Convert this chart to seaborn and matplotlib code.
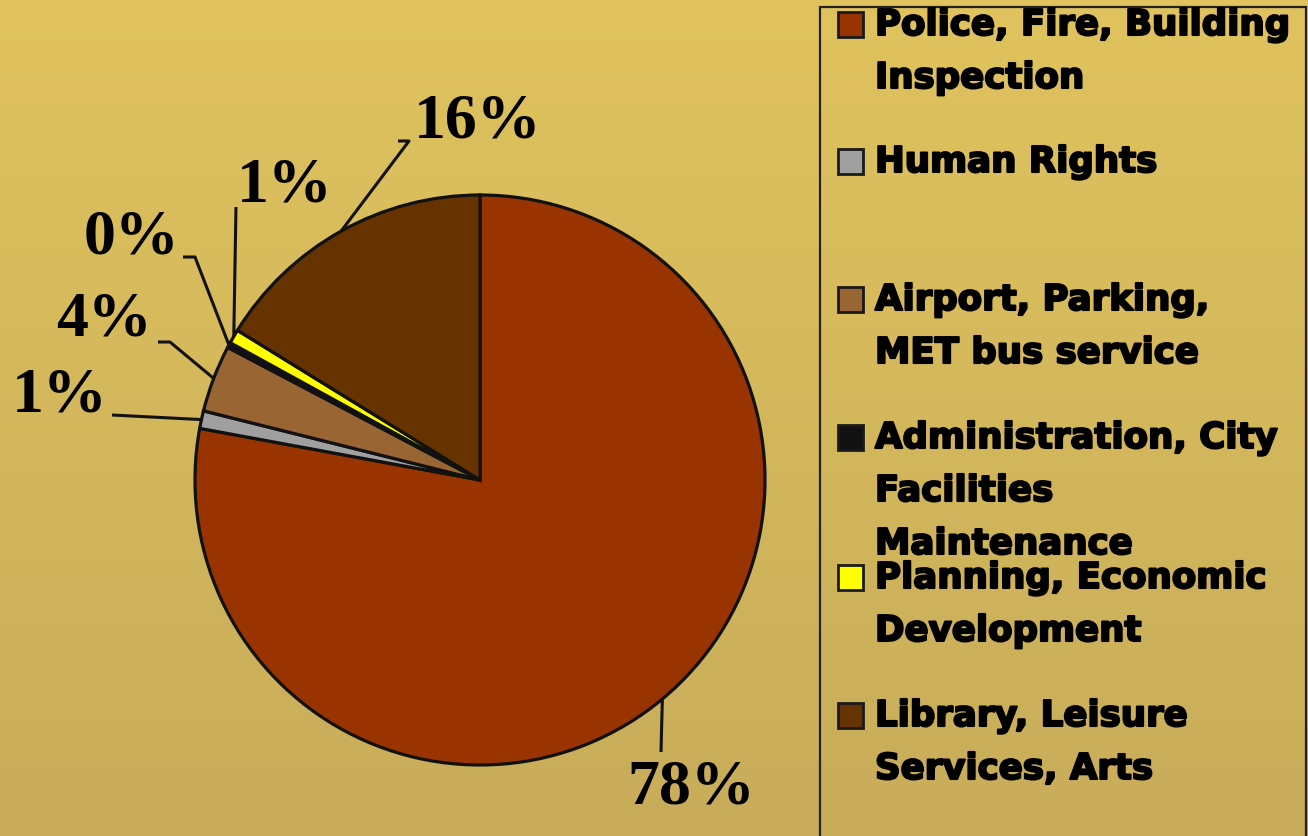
import numpy as np
import matplotlib
matplotlib.use("Agg")
import matplotlib.pyplot as plt
from matplotlib.patches import Rectangle
import matplotlib.patheffects as pe
import seaborn as sns

sns.set_style("white")

categories = ["Police, Fire, Building\nInspection", "Human Rights",
              "Airport, Parking,\nMET bus service",
              "Administration, City\nFacilities\nMaintenance",
              "Planning, Economic\nDevelopment",
              "Library, Leisure\nServices, Arts"]
values = [77.9, 1.0, 3.8, 0.3, 0.8, 16.2]
pct_labels = ["78%", "1%", "4%", "0%", "1%", "16%"]
colors = ["#993300", "#a0a0a0", "#996633", "#111111", "#ffff00", "#663300"]
palette = sns.color_palette(colors)

W, H = 1308, 836
fig = plt.figure(figsize=(W / 100, H / 100), dpi=100)

# background gradient
bg = fig.add_axes([0, 0, 1, 1])
grad = np.linspace(0, 1, 256).reshape(-1, 1)
top = np.array([224, 195, 94]) / 255
bot = np.array([200, 172, 90]) / 255
img = top[None, None, :] * (1 - grad[..., None]) + bot[None, None, :] * grad[..., None]
bg.imshow(img, aspect="auto", extent=[0, 1, 0, 1])
bg.set_axis_off()

ax = fig.add_axes([0, 0, 1, 1])
ax.patch.set_alpha(0)
cx, cy, R = 480, H - 480, 285
wedges, _ = ax.pie(values, colors=palette, startangle=90, counterclock=False,
                   center=(cx, cy), radius=R,
                   wedgeprops=dict(edgecolor="#111111", linewidth=2.3))
ax.set_xlim(0, W)
ax.set_ylim(0, H)
ax.set_aspect("equal")
ax.set_axis_off()

def Y(y):
    return H - y

def anchor(w):
    t = np.deg2rad((w.theta1 + w.theta2) / 2)
    return cx + R * np.cos(t), cy + R * np.sin(t)

# label positions (image coords) and leader starts
text_pos = [(691, 789), (60, 397), (104, 321), (131, 238), (285, 187), (478, 122)]
leaders = [[(661, 752)], [(112, 415)], [(158, 342), (170, 342)],
           [(183, 257), (195, 257)], [(236, 207)], [(398, 141), (409, 141)]]

for w, lab, tp, ld in zip(wedges, pct_labels, text_pos, leaders):
    ax_, ay_ = anchor(w)
    xs = [p[0] for p in ld] + [ax_]
    ys = [Y(p[1]) for p in ld] + [ay_]
    ax.plot(xs, ys, color="#111111", lw=2.2, solid_capstyle="butt")
    ax.text(tp[0], Y(tp[1]), lab, ha="center", va="center",
            fontsize=46, fontweight="bold", family=["Liberation Serif"], color="black")

# legend box
ax.add_patch(Rectangle((820, Y(836) - 10), 486, Y(7) - Y(836) + 10, fill=False,
                       edgecolor="#222222", lw=1.6))
entry_y = [25, 162, 300, 438, 578, 716]
stroke = [pe.withStroke(linewidth=1.5, foreground="black")]
for c, lab, ey in zip(palette, categories, entry_y):
    ax.add_patch(Rectangle((838, Y(ey) - 12), 25, 25, facecolor=c,
                           edgecolor="#1a1a1a", lw=2))
    for i, line in enumerate(lab.split("\n")):
        ax.text(875, Y(ey + i * 53), line, ha="left", va="center",
                fontsize=25.6, fontweight="bold", family=["DejaVu Sans"],
                color="black", path_effects=stroke)

fig.savefig("out.png", dpi=100)
